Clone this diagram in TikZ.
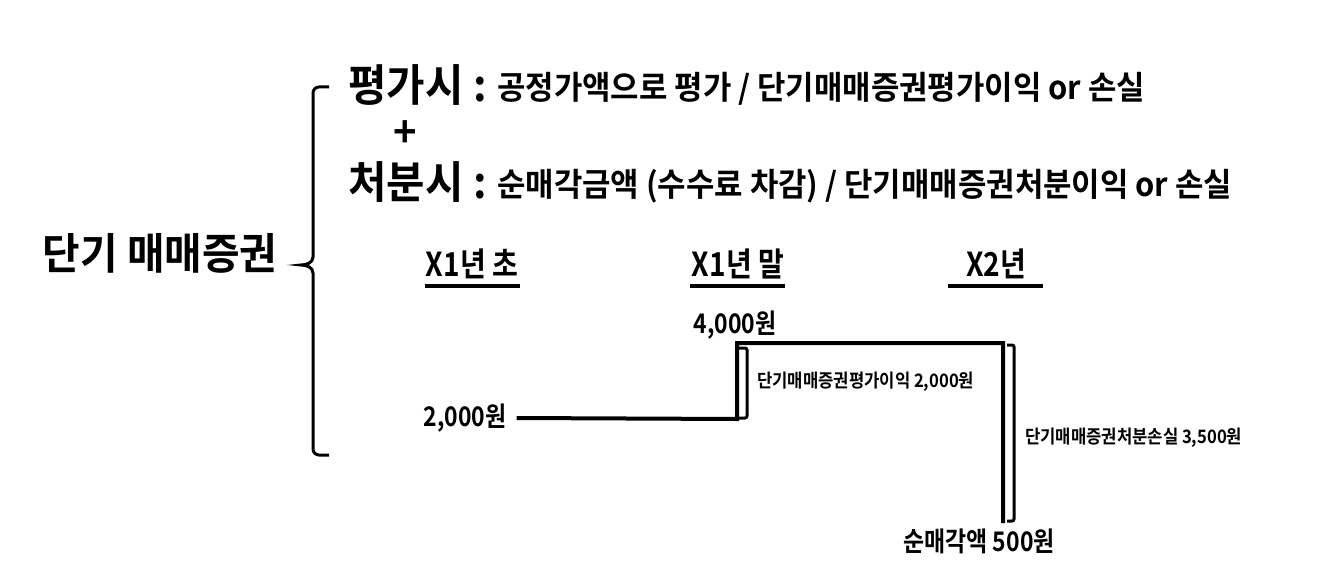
\documentclass[tikz,border=0pt]{standalone}
\usepackage{fontspec}
\newfontfamily\krfont{Noto Sans CJK KR Bold}[FakeStretch=0.95]
\newfontfamily\krmid{Noto Sans CJK KR Bold}[FakeStretch=0.9]
\newfontfamily\krnarrow{Noto Sans CJK KR Bold}[FakeStretch=0.85]
\usetikzlibrary{calc}

\begin{document}
\begin{tikzpicture}[x=1pt, y=-1pt,
    every node/.style={font=\krfont, inner sep=0pt},
    titletext/.style={font=\krfont\fontsize{43}{43}\selectfont},
    headtext/.style={font=\krfont\fontsize{44}{44}\selectfont, anchor=west},
    bodytext/.style={font=\krfont\fontsize{32.5}{32.5}\selectfont, anchor=west},
    yeartext/.style={font=\krnarrow\fontsize{33}{33}\selectfont},
    amounttext/.style={font=\krnarrow\fontsize{27}{27}\selectfont},
    smalltext/.style={font=\krmid\fontsize{18.5}{18.5}\selectfont, anchor=west},
    stepline/.style={line width=4pt},
    bracketline/.style={line width=3pt, rounded corners=2pt},
    yearline/.style={line width=4pt}]

\fill[white] (0,0) rectangle (1332,569);

% left part
\node[titletext] (title) at (160,253) {단기 매매증권};

\coordinate (bt) at (329,87);
\coordinate (bb) at (329,455);
\draw[line width=3pt] (bt) -- (319,87) to[out=180,in=90] (313,93) -- (313,257)
    to[out=-90,in=0] (301,265) to[out=0,in=90] (313,273) -- (313,449)
    to[out=-90,in=180] (319,455) -- (bb);

% rules
\node[headtext] (evalhead) at (348,85) {평가시 :};
\node[bodytext] (evalbody) at (497,89) {공정가액으로 평가 / 단기매매증권평가이익 or 손실};
\node[font=\krfont\fontsize{42}{42}\selectfont] (plus) at (405,134) {+};
\node[headtext] (disphead) at (348,182) {처분시 :};
\node[bodytext] (dispbody) at (497,186) {순매각금액 (수수료 차감) / 단기매매증권처분이익 or 손실};

% timeline
\node[yeartext] (t1) at (472,264) {X1년 초};
\node[yeartext] (t2) at (738,264) {X1년 말};
\node[yeartext] (t3) at (996,264) {X2년};
\draw[yearline] ($(t1.center)+(-47,22)$) -- ++(95,0);
\draw[yearline] ($(t2.center)+(-48,22)$) -- ++(95,0);
\draw[yearline] ($(t3.center)+(-48,22)$) -- ++(95,0);

\node[amounttext] (v1) at (465,418) {2,000원};
\node[amounttext] (v2) at (735,325) {4,000원};
\node[amounttext] (v3) at (979,541) {순매각액 500원};

\coordinate (c1) at (737,419);
\coordinate (c2) at (737,343);
\coordinate (c3) at (1003,343);
\coordinate (c4) at (1003,523);
\draw[stepline] ([xshift=10pt]v1.east) -- (c1) -- (c2) -- (c3) -- (c4);

\draw[bracketline] (739,348) -- (747,348) -- (747,418) -- (739,418);
\node[smalltext] (gain) at (757,382) {단기매매증권평가이익 2,000원};

\draw[bracketline] (1007,345) -- (1014,345) -- (1014,521) -- (1007,521);
\node[smalltext] (loss) at (1025,438) {단기매매증권처분손실 3,500원};
\end{tikzpicture}
\end{document}
